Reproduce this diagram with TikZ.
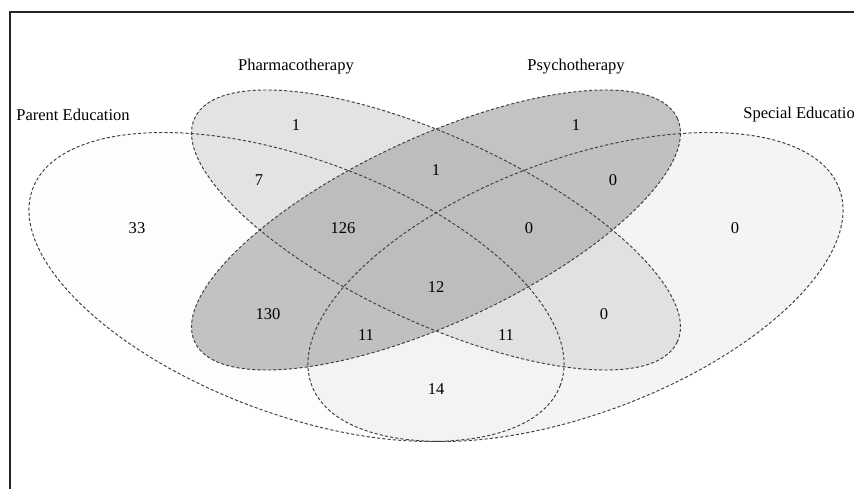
\documentclass[tikz,border=0pt]{standalone}
\usepackage{fontspec}
\setmainfont{Liberation Serif}
\usepackage{tikz}

\definecolor{parentfill}{RGB}{254,252,253}
\definecolor{pharmafill}{RGB}{221,221,224}
\definecolor{psychofill}{RGB}{181,180,181}
\definecolor{specialfill}{RGB}{228,226,223}

\begin{document}
\begin{tikzpicture}[x=0.02cm,y=-0.02cm,
    setline/.style={draw=black!75,line width=0.55pt,dash pattern=on 1.8pt off 1.2pt},
    setname/.style={font=\fontsize{9.4}{11}\selectfont,inner sep=0pt},
    count/.style={font=\fontsize{9.4}{11}\selectfont,inner sep=0pt}]
  \useasboundingbox (0,0) rectangle (854,489);
  \fill[white] (0,0) rectangle (854,489);
  % frame, cut at the right and bottom
  \draw[line width=1.1pt,black!85] (854,12) -- (10,12) -- (10,489);

  % fills: parent, special, pharmaco, psycho
  \fill[parentfill,rotate around={-20.41:(296.5,287)}] (296.5,287) ellipse [x radius=281.5,y radius=127.3];
  \fill[specialfill,fill opacity=0.35,rotate around={20.41:(575.5,287)}] (575.5,287) ellipse [x radius=281.5,y radius=127.3];
  \fill[pharmafill,fill opacity=0.8,rotate around={-24.87:(436,230)}] (436,230) ellipse [x radius=266,y radius=92.8];
  \fill[psychofill,fill opacity=0.8,rotate around={24.87:(436,230)}] (436,230) ellipse [x radius=266,y radius=92.8];

  % outlines on top
  \draw[setline,rotate around={-20.41:(296.5,287)}] (296.5,287) ellipse [x radius=281.5,y radius=127.3];
  \draw[setline,rotate around={20.41:(575.5,287)}] (575.5,287) ellipse [x radius=281.5,y radius=127.3];
  \draw[setline,rotate around={-24.87:(436,230)}] (436,230) ellipse [x radius=266,y radius=92.8];
  \draw[setline,rotate around={24.87:(436,230)}] (436,230) ellipse [x radius=266,y radius=92.8];

  % set names
  \node[setname] (parent) at (73,115) {Parent Education};
  \node[setname] (pharma) at (296,67) {Pharmacotherapy};
  \node[setname] (psycho) at (576,67) {Psychotherapy};
  \node[setname,anchor=west] (special) at (743,115) {Special Education};

  % counts
  \node[count] (pOnly) at (137,228) {33};
  \node[count] (phOnly) at (296,125) {1};
  \node[count] (psOnly) at (576,125) {1};
  \node[count] (sOnly) at (735,228) {0};
  \node[count] (pPh) at (259,180) {7};
  \node[count] (phPs) at (436,170) {1};
  \node[count] (psS) at (613,180) {0};
  \node[count] (pPhPs) at (343,228) {126};
  \node[count] (phPsS) at (529,228) {0};
  \node[count] (all) at (436,287) {12};
  \node[count] (pPs) at (268,314) {130};
  \node[count] (phS) at (604,314) {0};
  \node[count] (pPsS) at (366,335) {11};
  \node[count] (pPhS) at (506,335) {11};
  \node[count] (pS) at (436,389) {14};
\end{tikzpicture}
\end{document}
